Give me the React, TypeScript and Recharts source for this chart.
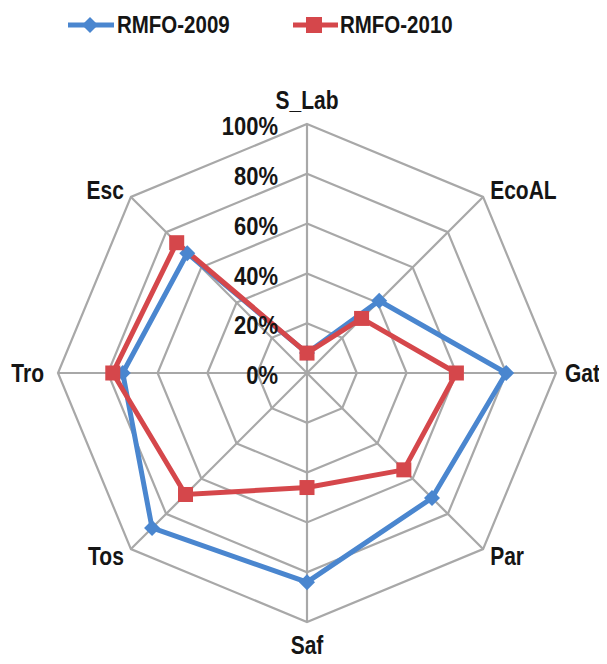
import { RadarChart, Radar, PolarGrid, PolarAngleAxis, PolarRadiusAxis, Legend } from "recharts";

const categories = ["S_Lab", "EcoAL", "Gat", "Par", "Saf", "Tos", "Tro", "Esc"];
const rmfo2009 = [8, 41, 80, 71, 84, 88, 74, 68];
const rmfo2010 = [8, 31, 60, 55, 46, 69, 78, 74];
const radiusTicks = [0, 20, 40, 60, 80, 100];

const BLUE = "#4a86cf";
const RED = "#d5474b";
const GRID = "#a8a8a8";
const TEXT = "#151515";
const FONT = '"Liberation Sans", Arial, sans-serif';

const W = 607;
const H = 664;
const CX = 307;
const CY = 373;
const R = 249;

const data = categories.map((c, i) => ({ cat: c, a: rmfo2009[i], b: rmfo2010[i] }));

const AngleTick = (props: any) => {
    const { x, y, payload } = props;
    const dx = x - CX;
    const dy = y - CY;
    const d = Math.hypot(dx, dy) || 1;
    const ux = dx / d;
    const uy = dy / d;
    let lx = CX + ux * (R + 10);
    let ly = CY + uy * (R + 10);
    let anchor = "middle";
    if (ux > 0.1) anchor = "start";
    if (ux < -0.1) anchor = "end";
    if (uy < -0.9) ly -= 14;
    if (uy > 0.9) ly += 13;
    if (Math.abs(uy) < 0.1 && ux < 0) lx -= 4;
    if (Math.abs(uy) < 0.1 && ux > 0) lx -= 1;
    return (
        <g transform={`translate(${lx},${ly})`}>
            <text
                transform="scale(1,1.2)"
                textAnchor={anchor}
                dominantBaseline="central"
                fontFamily={FONT}
                fontWeight="bold"
                fontSize={21}
                fill={TEXT}
            >
                {payload.value}
            </text>
        </g>
    );
};

const RadiusTick = (props: any) => {
    const { x, y, payload } = props;
    return (
        <g transform={`translate(${x - 29},${y + 2})`}>
            <text
                transform="scale(1,1.2)"
                textAnchor="end"
                dominantBaseline="central"
                fontFamily={FONT}
                fontWeight="bold"
                fontSize={22}
                fill={TEXT}
            >
                {payload.value}%
            </text>
        </g>
    );
};

const Diamond = (props: any) => {
    const { cx, cy } = props;
    const s = 8;
    return <path d={`M${cx},${cy - s}L${cx + s},${cy}L${cx},${cy + s}L${cx - s},${cy}Z`} fill={BLUE} />;
};

const Square = (props: any) => {
    const { cx, cy } = props;
    const s = 7.5;
    return <rect x={cx - s} y={cy - s} width={s * 2} height={s * 2} fill={RED} />;
};

const LegendBox = () => (
    <svg width={W} height={50}>
        <line x1={68} y1={25} x2={114} y2={25} stroke={BLUE} strokeWidth={5} />
        <path d="M90,17L98,25L90,33L82,25Z" fill={BLUE} />
        <g transform="translate(117,25)">
            <text transform="scale(1,1.2)" dominantBaseline="central" fontFamily={FONT} fontWeight="bold" fontSize={20.5} fill={TEXT}>
                RMFO-2009
            </text>
        </g>
        <line x1={293} y1={25} x2={338} y2={25} stroke={RED} strokeWidth={5} />
        <rect x={306} y={17} width={16} height={16} fill={RED} />
        <g transform="translate(340,25)">
            <text transform="scale(1,1.2)" dominantBaseline="central" fontFamily={FONT} fontWeight="bold" fontSize={20.5} fill={TEXT}>
                RMFO-2010
            </text>
        </g>
    </svg>
);

export default function App() {
    return (
        <div style={{ width: W, height: H, margin: -8, background: "#fff" }}>
            <RadarChart width={W} height={H} data={data} cx={CX} cy={CY} outerRadius={R}>
                <PolarGrid stroke={GRID} strokeWidth={2.2} gridType="polygon" />
                <PolarAngleAxis dataKey="cat" tick={AngleTick} tickLine={false} axisLine={false} />
                <PolarRadiusAxis
                    angle={90}
                    domain={[0, 100]}
                    ticks={radiusTicks as any}
                    tickCount={6}
                    tick={RadiusTick}
                    axisLine={false}
                    tickLine={false}
                />
                <Radar
                    name="RMFO-2009"
                    dataKey="a"
                    stroke={BLUE}
                    strokeWidth={5}
                    fill="none"
                    fillOpacity={0}
                    dot={Diamond}
                    isAnimationActive={false}
                />
                <Radar
                    name="RMFO-2010"
                    dataKey="b"
                    stroke={RED}
                    strokeWidth={5}
                    fill="none"
                    fillOpacity={0}
                    dot={Square}
                    isAnimationActive={false}
                />
                <Legend verticalAlign="top" wrapperStyle={{ top: 0, left: 0 }} content={LegendBox} />
            </RadarChart>
        </div>
    );
}
